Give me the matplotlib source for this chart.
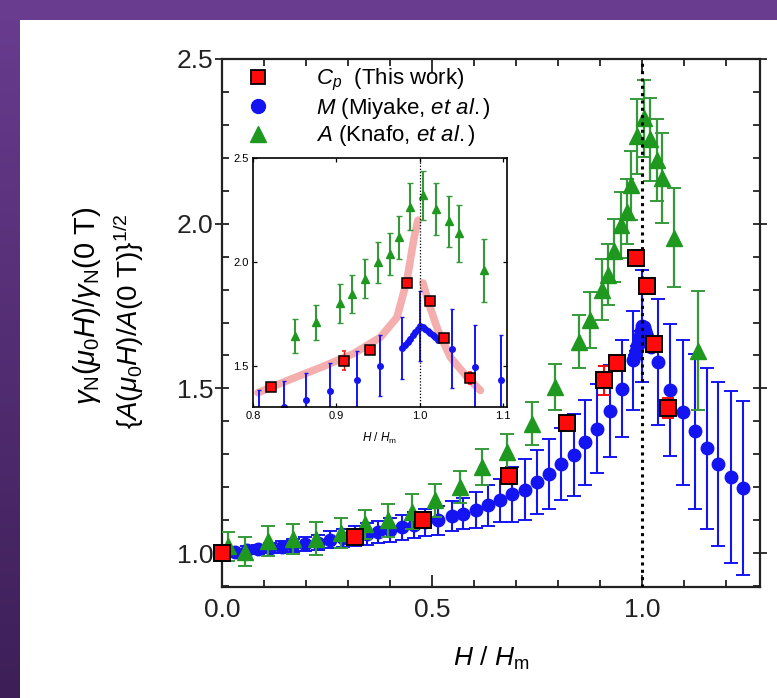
import numpy as np
import matplotlib
matplotlib.use('Agg')
import matplotlib.pyplot as plt
from matplotlib.ticker import MultipleLocator, FormatStrFormatter
from matplotlib.lines import Line2D
from matplotlib.patches import Rectangle
from matplotlib.colors import LinearSegmentedColormap

plt.rcParams['font.family'] = ['Liberation Sans', 'DejaVu Sans']
plt.rcParams['mathtext.fontset'] = 'custom'
plt.rcParams['mathtext.rm'] = 'Liberation Sans'
plt.rcParams['mathtext.it'] = 'Liberation Sans:italic'
plt.rcParams['mathtext.bf'] = 'Liberation Sans:bold'
plt.rcParams['mathtext.sf'] = 'Liberation Sans'

# ---------------- data ----------------
# C_p (This work)
cp_x = [0.0, 0.317, 0.479, 0.683, 0.822, 0.909, 0.940, 0.985, 1.012, 1.029, 1.061]
cp_y = [1.0, 1.05, 1.10, 1.235, 1.396, 1.524, 1.576, 1.897, 1.810, 1.634, 1.440]
cp_err = [0.0, 0.0, 0.0, 0.01, 0.015, 0.045, 0.02, 0.015, 0.015, 0.02, 0.03]

# M (Miyake, et al.)
m_x = [0.030, 0.059, 0.086, 0.114, 0.142, 0.170, 0.198, 0.229, 0.257, 0.289,
       0.317, 0.345, 0.372, 0.400, 0.428, 0.456, 0.483, 0.515, 0.547, 0.575,
       0.605, 0.634, 0.662, 0.691, 0.721, 0.750, 0.778, 0.807, 0.837, 0.864,
       0.892, 0.925, 0.952, 0.979, 1.039, 1.067, 1.098, 1.126, 1.154, 1.182,
       1.211, 1.241]
m_y = [1.002, 1.009, 1.012, 1.015, 1.019, 1.023, 1.027, 1.032, 1.040, 1.046,
       1.052, 1.058, 1.064, 1.070, 1.079, 1.086, 1.093, 1.100, 1.112, 1.120,
       1.130, 1.145, 1.160, 1.178, 1.193, 1.216, 1.240, 1.270, 1.298, 1.336,
       1.378, 1.431, 1.499, 1.585, 1.580, 1.494, 1.428, 1.370, 1.318, 1.270,
       1.231, 1.198]
m_err = [0.010, 0.012, 0.014, 0.016, 0.018, 0.020, 0.022, 0.024, 0.026, 0.028,
         0.030, 0.032, 0.034, 0.036, 0.038, 0.040, 0.042, 0.044, 0.045, 0.048,
         0.055, 0.063, 0.065, 0.083, 0.092, 0.098, 0.105, 0.110, 0.125, 0.128,
         0.136, 0.140, 0.147, 0.150, 0.190, 0.200, 0.220, 0.235, 0.245, 0.250,
         0.260, 0.265]
# dense M points around the peak
m_pk_x = [0.983, 0.986, 0.989, 0.992, 0.995, 0.998, 1.001, 1.004, 1.007,
          1.010, 1.013, 1.016, 1.019, 1.022]
m_pk_y = [1.600, 1.615, 1.630, 1.645, 1.660, 1.675, 1.690, 1.685, 1.675,
          1.665, 1.655, 1.645, 1.635, 1.625]
m_pk_err = [0, 0, 0, 0, 0, 0, 0.17, 0, 0, 0, 0, 0, 0, 0]

# A (Knafo, et al.)
a_x = [0.015, 0.055, 0.110, 0.168, 0.225, 0.284, 0.340, 0.396, 0.452, 0.507,
       0.567, 0.620, 0.678, 0.737, 0.793, 0.850, 0.876, 0.905, 0.919, 0.934,
       0.950, 0.965, 0.975, 0.989, 1.004, 1.020, 1.035, 1.047, 1.077, 1.134]
a_y = [1.020, 1.004, 1.037, 1.042, 1.043, 1.060, 1.087, 1.100, 1.125, 1.160,
       1.200, 1.262, 1.307, 1.393, 1.504, 1.642, 1.708, 1.800, 1.845, 1.918,
       1.997, 2.037, 2.117, 2.265, 2.320, 2.256, 2.194, 2.138, 1.958, 1.615]
a_err = [0.045, 0.044, 0.045, 0.045, 0.050, 0.045, 0.043, 0.050, 0.053, 0.050,
         0.048, 0.055, 0.055, 0.065, 0.070, 0.080, 0.085, 0.093, 0.093, 0.095,
         0.100, 0.100, 0.105, 0.113, 0.117, 0.125, 0.125, 0.137, 0.150, 0.180]

# guide-to-the-eye (inset)
guide_l_x = [0.806, 0.841, 0.881, 0.921, 0.953, 0.973, 0.985, 0.993, 0.998]
guide_l_y = [1.369, 1.427, 1.490, 1.558, 1.636, 1.733, 1.913, 2.107, 2.200]
guide_r_x = [1.004, 1.011, 1.022, 1.037, 1.058, 1.073]
guide_r_y = [1.898, 1.800, 1.670, 1.540, 1.440, 1.380]

labels = [r'$C_p$  (This work)', r'$M$ (Miyake, $et\ al.$)', r'$A$ (Knafo, $et\ al.$)']

# ---------------- figure ----------------
W, H = 777, 698
fig = plt.figure(figsize=(W / 100, H / 100), dpi=100)
fig.patch.set_facecolor('#693C8F')
fig.add_artist(Rectangle((20 / W, 0), 1 - 20 / W, 1 - 20 / H, transform=fig.transFigure,
                         facecolor='white', edgecolor='none', zorder=0))
gax = fig.add_axes([0, 0, 20 / W, 1 - 20 / H])
grad = np.linspace(0, 1, 256).reshape(-1, 1)
cmap = LinearSegmentedColormap.from_list('p', ['#683B8E', '#3D1F57'])
gax.imshow(grad, aspect='auto', cmap=cmap, extent=[0, 1, 0, 1], origin='upper')
gax.axis('off')

BLUE = '#1414F2'
GREEN = '#1F981F'
GREEN_E = '#35993A'
RED = '#FF0A0A'

ax = fig.add_axes([222 / W, 1 - 587 / H, (760 - 222) / W, (587 - 59) / H])
ax.set_xlim(0, 1.281)
ax.set_ylim(0.897, 2.5)

ax.errorbar(m_x, m_y, yerr=m_err, fmt='o', ms=9, color=BLUE, ecolor=BLUE,
            elinewidth=1.5, capsize=5, capthick=1.4, zorder=2)
ax.errorbar(m_pk_x, m_pk_y, yerr=m_pk_err, fmt='o', ms=9, color=BLUE, ecolor=BLUE,
            elinewidth=1.5, capsize=5, capthick=1.4, zorder=2)
ax.errorbar(a_x, a_y, yerr=a_err, fmt='^', ms=11, color=GREEN, ecolor=GREEN_E,
            elinewidth=1.6, capsize=5, capthick=1.4, zorder=3)
ax.axvline(1.0, color='black', ls=(0, (1, 1.4)), lw=2.2, zorder=3.5)
ax.errorbar(cp_x, cp_y, yerr=cp_err, fmt='s', ms=12, mfc=RED, mec='black', mew=1.4,
            ecolor=RED, elinewidth=1.5, capsize=4, zorder=5, clip_on=False)

ax.xaxis.set_major_locator(MultipleLocator(0.5))
ax.xaxis.set_minor_locator(MultipleLocator(0.1))
ax.yaxis.set_major_locator(MultipleLocator(0.5))
ax.yaxis.set_minor_locator(MultipleLocator(0.1))
ax.xaxis.set_major_formatter(FormatStrFormatter('%.1f'))
ax.yaxis.set_major_formatter(FormatStrFormatter('%.1f'))
ax.tick_params(which='both', direction='in', top=True, right=True, width=1.3, colors='#222222')
ax.tick_params(axis='x', which='major', length=9, labelsize=19, pad=8)
ax.tick_params(axis='y', which='major', direction='inout', length=10, labelsize=19, pad=1)
ax.tick_params(which='minor', length=5)
for s in ax.spines.values():
    s.set_linewidth(1.6)
    s.set_color('#222222')

ax.set_xlabel(r'$H\ /\ H_{\rm m}$', fontsize=19, labelpad=16)

handles = [Line2D([], [], ls='none', marker='s', ms=10, mfc=RED, mec='black', mew=1.3),
           Line2D([], [], ls='none', marker='o', ms=10, color=BLUE),
           Line2D([], [], ls='none', marker='^', ms=11, color=GREEN)]
ax.legend(handles, labels, loc='upper left', bbox_to_anchor=(0.047, 0.985), frameon=False,
          fontsize=16, handlelength=1.0, handletextpad=2.1, labelspacing=0.12,
          borderaxespad=0, borderpad=0)

fig.text(87 / W, 1 - 306 / H, r'$\gamma_{\rm N}(\mu_0H)/\gamma_{\rm N}(0\ {\rm T})$',
         rotation=90, ha='center', va='center', fontsize=21)
fig.text(129 / W, 1 - 321 / H, r'$\{A(\mu_0H)/A(0\ {\rm T})\}^{1/2}$',
         rotation=90, ha='center', va='center', fontsize=20)

# ---------------- inset ----------------
ins = fig.add_axes([253 / W, 1 - 407 / H, (507 - 253) / W, (407 - 158) / H], zorder=10)
ins.set_facecolor('white')
ins.set_xlim(0.8, 1.105)
ins.set_ylim(1.3, 2.5)
ins.plot(guide_l_x, guide_l_y, color='#F4A0A0', lw=5.5, alpha=0.85, solid_capstyle='round', zorder=1)
ins.plot(guide_r_x, guide_r_y, color='#F4A0A0', lw=5.5, alpha=0.85, solid_capstyle='round', zorder=1)
ins.errorbar(m_x, m_y, yerr=m_err, fmt='o', ms=4, color=BLUE, ecolor=BLUE,
             elinewidth=1.4, capsize=1.5, zorder=2)
ins.errorbar(m_pk_x, m_pk_y, yerr=m_pk_err, fmt='o-', ms=4, lw=3, color=BLUE, ecolor=BLUE,
             elinewidth=1.4, capsize=1.5, zorder=2)
ins.errorbar(a_x, a_y, yerr=a_err, fmt='^', ms=5.5, color=GREEN, ecolor=GREEN_E,
             elinewidth=1.5, capsize=2, zorder=3)
ins.axvline(1.0, color='black', ls=(0, (1, 1.5)), lw=0.9, zorder=3.5)
ins.errorbar(cp_x, cp_y, yerr=cp_err, fmt='s', ms=7, mfc=RED, mec='black', mew=1.1,
             ecolor=RED, elinewidth=1.0, capsize=1.5, zorder=5)
ins.xaxis.set_major_locator(MultipleLocator(0.1))
ins.yaxis.set_major_locator(MultipleLocator(0.5))
ins.xaxis.set_major_formatter(FormatStrFormatter('%.1f'))
ins.yaxis.set_major_formatter(FormatStrFormatter('%.1f'))
ins.tick_params(direction='in', top=True, right=True, length=3, width=0.9, labelsize=8, pad=3)
for s in ins.spines.values():
    s.set_linewidth(1.2)
ins.set_xlabel(r'$H\ /\ H_{\rm m}$', fontsize=8.5, labelpad=7)

fig.savefig('out.png', dpi=100)
